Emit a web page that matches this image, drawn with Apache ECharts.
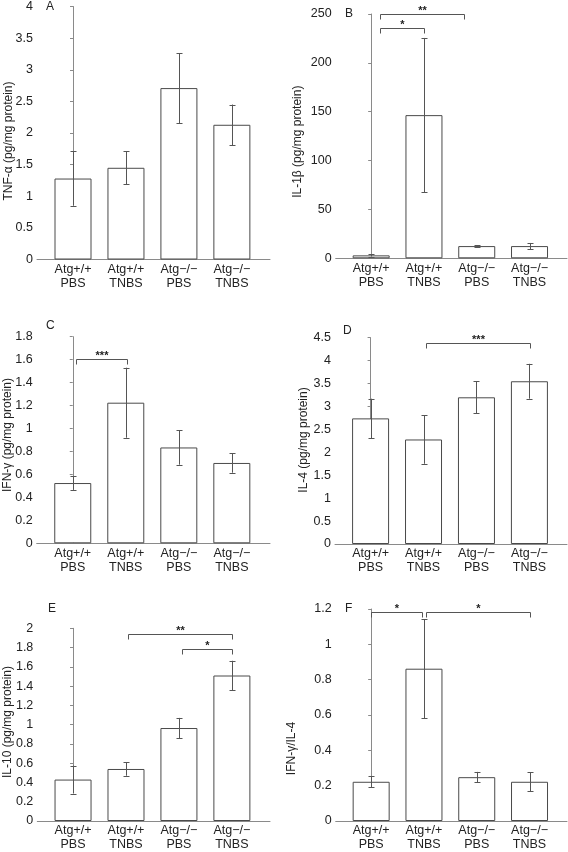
<!DOCTYPE html>
<html>
<head>
<meta charset="utf-8">
<script src="https://cdn.jsdelivr.net/npm/echarts@6/dist/echarts.min.js"></script>
<style>
html,body{margin:0;padding:0;background:#fff;}
#chart{width:568px;height:852px;}
</style>
</head>
<body>
<div id="chart"></div>
<script>
// ---------- data ----------
const categories = ['Atg+/+\nPBS', 'Atg+/+\nTNBS', 'Atg\u2212/\u2212\nPBS', 'Atg\u2212/\u2212\nTNBS'];

const tnfMean = [1.28, 1.45, 2.71, 2.13];
const tnfErr  = [0.43, 0.26, 0.555, 0.32];

const il1bMean = [3, 146.5, 12.5, 12.5];
const il1bErr  = [1.2, 79, 1.0, 3.2];

const ifngMean = [0.525, 1.225, 0.835, 0.70];
const ifngErr  = [0.06, 0.305, 0.15, 0.085];

const il4Mean = [2.74, 2.28, 3.2, 3.55];
const il4Err  = [0.43, 0.53, 0.35, 0.38];

const il10Mean = [0.43, 0.54, 0.965, 1.51];
const il10Err  = [0.145, 0.07, 0.105, 0.153];

const ratioMean = [0.222, 0.862, 0.248, 0.222];
const ratioErr  = [0.03, 0.28, 0.03, 0.055];

// significance brackets: [from (category units), to, y value, label]
const tnfBrackets = [];
const il1bBrackets = [[0.16, 1.75, 250, '**'], [0.16, 1.01, 235.7, '*']];
const ifngBrackets = [[0.07, 1.015, 1.608, '***']];
const il4Brackets = [[1.047, 3.006, 4.378, '***']];
const il10Brackets = [[1.045, 3.011, 1.942, '**'], [2.055, 3.011, 1.788, '*']];
const ratioBrackets = [[0.0, 0.96, 1.185, '*'], [1.03, 3.006, 1.185, '*']];

const panelLetters = ['A', 'B', 'C', 'D', 'E', 'F'];
const yTitles = ['TNF-\u03b1 (pg/mg protein)', 'IL-1\u03b2 (pg/mg protein)', 'IFN-\u03b3 (pg/mg protein)',
                 'IL-4 (pg/mg protein)', 'IL-10 (pg/mg protein)', 'IFN-\u03b3/IL-4'];
const yMax = [4, 250, 1.8, 4.5, 2, 1.2];
const yStep = [0.5, 50, 0.2, 0.5, 0.2, 0.2];

// ---------- layout / style ----------
const FONT = 'Liberation Sans';
const AXIS_COLOR = '#8a8a8a';
const BAR_BORDER = '#4a4a4a';
const LINE_COLOR = '#555';
const TEXT_COLOR = '#222';

const panels = [
  {mean: tnfMean, err: tnfErr, br: tnfBrackets},
  {mean: il1bMean, err: il1bErr, br: il1bBrackets},
  {mean: ifngMean, err: ifngErr, br: ifngBrackets},
  {mean: il4Mean, err: il4Err, br: il4Brackets},
  {mean: il10Mean, err: il10Err, br: il10Brackets},
  {mean: ratioMean, err: ratioErr, br: ratioBrackets}
];

const grids = [
  {left: 37,    top: 5,     width: 233,   height: 254.5},
  {left: 335.7, top: 14,    width: 231.3, height: 244.3},
  {left: 36.7,  top: 336.7, width: 233.3, height: 206.6},
  {left: 335,   top: 337.7, width: 232,   height: 206.3},
  {left: 37.3,  top: 628.3, width: 232.7, height: 197.7},
  {left: 335.7, top: 609,   width: 231.3, height: 216.7}
];
const xRange = [[-0.68, 3.72], [-0.672, 3.71], [-0.68, 3.72], [-0.672, 3.71], [-0.675, 3.72], [-0.672, 3.71]];
const titlePos = [[9, 141], [297.3, 141.7], [8, 435], [303.3, 440], [8, 722], [292, 748.5]];
const letterPos = [[46, 1], [345, 8], [46, 320], [343, 325], [48, 603], [345, 603]];

const option = {
  animation: false,
  backgroundColor: '#fff',
  textStyle: {fontFamily: FONT},
  title: panelLetters.map((t, i) => ({
    text: t, left: letterPos[i][0], top: letterPos[i][1], padding: 0,
    textStyle: {fontFamily: FONT, fontSize: 12, fontWeight: 'normal', color: TEXT_COLOR}
  })),
  graphic: yTitles.map((t, i) => ({
    type: 'text', x: titlePos[i][0], y: titlePos[i][1], rotation: Math.PI / 2,
    style: {text: t, font: '12px ' + FONT, fill: TEXT_COLOR, align: 'center', verticalAlign: 'middle'}
  })),
  grid: grids,
  xAxis: grids.map((g, i) => ({
    type: 'value', gridIndex: i, min: xRange[i][0], max: xRange[i][1],
    axisLine: {show: true, lineStyle: {color: AXIS_COLOR, width: 1}},
    axisTick: {show: false},
    splitLine: {show: false},
    axisLabel: {
      customValues: [0, 1, 2, 3],
      formatter: v => categories[Math.round(v)],
      fontFamily: FONT, fontSize: 12.5, lineHeight: 14, color: TEXT_COLOR, margin: 3
    }
  })),
  yAxis: grids.map((g, i) => ({
    type: 'value', gridIndex: i, min: 0, max: yMax[i], interval: yStep[i],
    axisLine: {show: true, lineStyle: {color: AXIS_COLOR, width: 1}},
    axisTick: {show: true, length: 3, lineStyle: {color: AXIS_COLOR}},
    splitLine: {show: false},
    axisLabel: {fontFamily: FONT, fontSize: 12.5, color: TEXT_COLOR, margin: 4}
  })),
  series: []
};

panels.forEach((p, i) => {
  option.series.push({
    type: 'bar', xAxisIndex: i, yAxisIndex: i, barWidth: 37,
    itemStyle: {color: '#fff', borderColor: BAR_BORDER, borderWidth: 1},
    data: p.mean.map((m, k) => [k, m]),
    z: 2
  });
  option.series.push({
    type: 'custom', xAxisIndex: i, yAxisIndex: i, z: 3,
    data: p.mean.map((m, k) => [k, m - p.err[k], m + p.err[k]]),
    encode: {x: 0, y: [1, 2]},
    renderItem: function (params, api) {
      const x = api.value(0);
      const lo = api.coord([x, api.value(1)]);
      const hi = api.coord([x, api.value(2)]);
      const cx = Math.round(lo[0]) + 0.5;
      const cap = 3;
      const st = {stroke: LINE_COLOR, lineWidth: 1};
      return {type: 'group', children: [
        {type: 'line', shape: {x1: cx, y1: hi[1], x2: cx, y2: lo[1]}, style: st},
        {type: 'line', shape: {x1: cx - cap, y1: Math.round(hi[1]) + 0.5, x2: cx + cap, y2: Math.round(hi[1]) + 0.5}, style: st},
        {type: 'line', shape: {x1: cx - cap, y1: Math.round(lo[1]) + 0.5, x2: cx + cap, y2: Math.round(lo[1]) + 0.5}, style: st}
      ]};
    }
  });
  if (p.br.length) {
    option.series.push({
      type: 'custom', xAxisIndex: i, yAxisIndex: i, z: 4, clip: false,
      data: p.br.map(b => [b[0], b[1], b[2]]),
      encode: {x: [0, 1], y: 2},
      renderItem: function (params, api) {
        const b = p.br[params.dataIndex];
        const a = api.coord([api.value(0), api.value(2)]);
        const c = api.coord([api.value(1), api.value(2)]);
        const y = Math.round(a[1]) + 0.5;
        const x1 = Math.round(a[0]) + 0.5, x2 = Math.round(c[0]) + 0.5;
        const drop = 5;
        return {type: 'group', children: [
          {type: 'polyline', shape: {points: [[x1, y + drop], [x1, y], [x2, y], [x2, y + drop]]},
           style: {stroke: LINE_COLOR, lineWidth: 1, fill: null}},
          {type: 'text', x: (x1 + x2) / 2, y: y + 2,
           style: {text: b[3], fill: TEXT_COLOR, font: 'bold 11px ' + FONT, align: 'center', verticalAlign: 'bottom'}}
        ]};
      }
    });
  }
});

const chart = echarts.init(document.getElementById('chart'), null, {renderer: 'canvas'});
chart.setOption(option);
</script>
</body>
</html>
